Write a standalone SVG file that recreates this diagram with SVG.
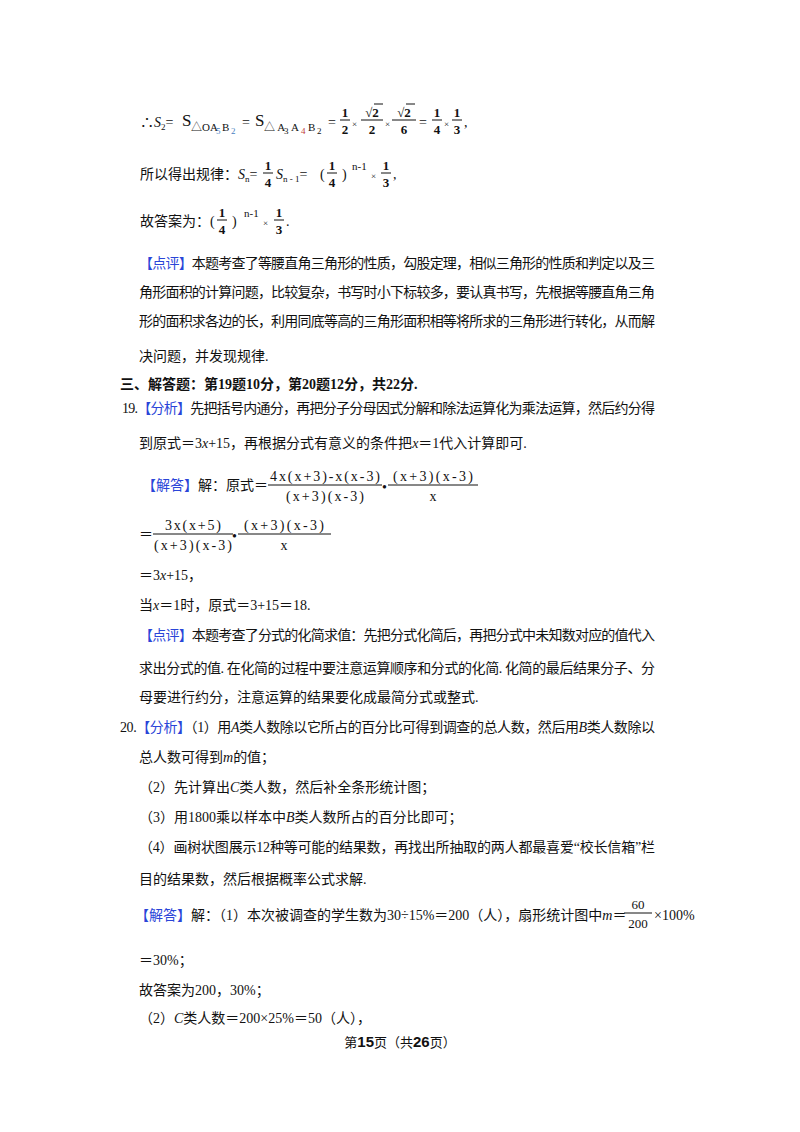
<svg xmlns="http://www.w3.org/2000/svg" width="800" height="1132" viewBox="0 0 800 1132">
<style>
text{font-family:"Liberation Serif","Noto Sans CJK SC",serif;font-size:14px;fill:#111}
.b{fill:#2a45d8}
.i{font-style:italic}
.s{font-size:9px}
.m{font-size:13px}
.f{font-size:14px}
.c{text-anchor:middle}
.bd{font-weight:bold}
line{stroke:#111;stroke-width:1}
</style>
<rect width="800" height="1132" fill="#fff"/>
<g id="line1">
<text x="140" y="127">∴<tspan class="i">S</tspan><tspan class="s" dy="3">2</tspan><tspan dy="-3">=</tspan></text>
<text x="182" y="126" style="font-size:17px">S</text>
<text x="191" y="131" style="font-size:11px">△OA</text><text x="216" y="134" class="s" style="fill:#4a7fc1">5</text><text x="222" y="131" style="font-size:11px">B</text><text x="231" y="134" class="s" style="fill:#4a7fc1">2</text>
<text x="242" y="127">=</text>
<text x="255" y="126" style="font-size:17px">S</text>
<text x="264" y="131" style="font-size:11px">△ A</text><text x="284" y="134" class="s">3</text><text x="291" y="131" style="font-size:11px">A</text><text x="301" y="134" class="s" style="fill:#c04040">4</text><text x="308" y="131" style="font-size:11px">B</text><text x="317" y="134" class="s">2</text>
<text x="328" y="127">=</text>
<text x="345" y="117" class="c bd m">1</text><line x1="340" y1="120" x2="350" y2="120"/><text x="345" y="134" class="c bd m">2</text>
<text x="352" y="127" class="s">×</text>
<text x="372" y="117" class="c bd m">√2</text><line x1="374" y1="104" x2="383" y2="104"/><line x1="361" y1="120" x2="383" y2="120"/><text x="372" y="134" class="c bd m">2</text>
<text x="385" y="127" class="s">×</text>
<text x="404" y="117" class="c bd m">√2</text><line x1="406" y1="104" x2="415" y2="104"/><line x1="392" y1="120" x2="416" y2="120"/><text x="404" y="134" class="c bd m">6</text>
<text x="419" y="127">=</text>
<text x="437" y="117" class="c bd m">1</text><line x1="432" y1="120" x2="442" y2="120"/><text x="437" y="134" class="c bd m">4</text>
<text x="444" y="127" class="s">×</text>
<text x="457" y="117" class="c bd m">1</text><line x1="452" y1="120" x2="462" y2="120"/><text x="457" y="134" class="c bd m">3</text>
<text x="464" y="127">,</text>
</g>
<g id="line2">
<text x="140" y="179">所以得出规律：<tspan class="i">S</tspan><tspan class="s" dy="3">n</tspan><tspan dy="-3">=</tspan></text>
<text x="268" y="170" class="c bd m">1</text><line x1="263" y1="173" x2="273" y2="173"/><text x="268" y="187" class="c bd m">4</text>
<text x="276" y="179"><tspan class="i">S</tspan><tspan class="s" dy="3">n - 1</tspan><tspan dy="-3">=</tspan></text>
<text x="320" y="179">(</text>
<text x="332" y="170" class="c bd m">1</text><line x1="327" y1="173" x2="337" y2="173"/><text x="332" y="187" class="c bd m">4</text>
<text x="342" y="179">)</text>
<text x="352" y="170" style="font-size:11px">n-1</text>
<text x="371" y="179" class="s">×</text>
<text x="386" y="170" class="c bd m">1</text><line x1="381" y1="173" x2="391" y2="173"/><text x="386" y="187" class="c bd m">3</text>
<text x="393" y="179">,</text>
</g>
<g id="line3">
<text x="140" y="226">故答案为：(</text>
<text x="222" y="217" class="c bd m">1</text><line x1="217" y1="220" x2="227" y2="220"/><text x="222" y="234" class="c bd m">4</text>
<text x="232" y="226">)</text>
<text x="244" y="217" style="font-size:11px">n-1</text>
<text x="263" y="226" class="s">×</text>
<text x="279" y="217" class="c bd m">1</text><line x1="274" y1="220" x2="284" y2="220"/><text x="279" y="234" class="c bd m">3</text>
<text x="286" y="226">.</text>
</g>
<g id="review1">
<text x="139" y="268" textLength="516" lengthAdjust="spacing"><tspan class="b">【点评】</tspan>本题考查了等腰直角三角形的性质，勾股定理，相似三角形的性质和判定以及三</text>
<text x="139" y="297" textLength="516" lengthAdjust="spacing">角形面积的计算问题，比较复杂，书写时小下标较多，要认真书写，先根据等腰直角三角</text>
<text x="139" y="326" textLength="516" lengthAdjust="spacing">形的面积求各边的长，利用同底等高的三角形面积相等将所求的三角形进行转化，从而解</text>
<text x="139" y="361">决问题，并发现规律.</text>
</g>
<g id="section3">
<text x="120" y="389" class="bd">三、解答题：第19题10分，第20题12分，共22分.</text>
</g>
<g id="q19">
<text x="122" y="413" textLength="533" lengthAdjust="spacing">19.<tspan class="b">【分析】</tspan>先把括号内通分，再把分子分母因式分解和除法运算化为乘法运算，然后约分得</text>
<text x="139" y="448">到原式＝3<tspan class="i">x</tspan>+15，再根据分式有意义的条件把<tspan class="i">x</tspan>＝1代入计算即可.</text>
<text x="142" y="490"><tspan class="b">【解答】</tspan>解：原式＝</text>
<text x="325" y="481" class="c f" textLength="110" lengthAdjust="spacing">4x(x+3)-x(x-3)</text><line x1="268" y1="485" x2="382" y2="485"/><text x="325" y="501" class="c f" textLength="78" lengthAdjust="spacing">(x+3)(x-3)</text>
<text x="382" y="492">•</text>
<text x="433" y="481" class="c f" textLength="80" lengthAdjust="spacing">(x+3)(x-3)</text><line x1="388" y1="485" x2="478" y2="485"/><text x="433" y="501" class="c f">x</text>
<text x="139" y="539">＝</text>
<text x="193" y="530" class="c f" textLength="56" lengthAdjust="spacing">3x(x+5)</text><line x1="153" y1="534" x2="233" y2="534"/><text x="193" y="550" class="c f" textLength="78" lengthAdjust="spacing">(x+3)(x-3)</text>
<text x="232" y="541">•</text>
<text x="284" y="530" class="c f" textLength="80" lengthAdjust="spacing">(x+3)(x-3)</text><line x1="238" y1="534" x2="331" y2="534"/><text x="284" y="550" class="c f">x</text>
<text x="139" y="580">＝3<tspan class="i">x</tspan>+15，</text>
<text x="139" y="610">当<tspan class="i">x</tspan>＝1时，原式＝3+15＝18.</text>
<text x="139" y="640" textLength="516" lengthAdjust="spacing"><tspan class="b">【点评】</tspan>本题考查了分式的化简求值：先把分式化简后，再把分式中未知数对应的值代入</text>
<text x="139" y="673" textLength="516" lengthAdjust="spacing">求出分式的值. 在化简的过程中要注意运算顺序和分式的化简. 化简的最后结果分子、分</text>
<text x="139" y="702">母要进行约分，注意运算的结果要化成最简分式或整式.</text>
</g>
<g id="q20">
<text x="120" y="732" textLength="535" lengthAdjust="spacing">20.<tspan class="b">【分析】</tspan>（1）用<tspan class="i">A</tspan>类人数除以它所占的百分比可得到调查的总人数，然后用<tspan class="i">B</tspan>类人数除以</text>
<text x="139" y="762">总人数可得到<tspan class="i">m</tspan>的值；</text>
<text x="139" y="792">（2）先计算出<tspan class="i">C</tspan>类人数，然后补全条形统计图；</text>
<text x="139" y="822">（3）用1800乘以样本中<tspan class="i">B</tspan>类人数所占的百分比即可；</text>
<text x="139" y="852" textLength="516" lengthAdjust="spacing">（4）画树状图展示12种等可能的结果数，再找出所抽取的两人都最喜爱“校长信箱”栏</text>
<text x="139" y="884">目的结果数，然后根据概率公式求解.</text>
<text x="135" y="920"><tspan class="b">【解答】</tspan>解：（1）本次被调查的学生数为30÷15%＝200（人），扇形统计图中<tspan class="i">m</tspan>＝</text>
<text x="638" y="909" class="c m">60</text><line x1="624" y1="913" x2="652" y2="913"/><text x="638" y="928" class="c m">200</text>
<text x="654" y="920">×100%</text>
<text x="139" y="965">＝30%；</text>
<text x="139" y="995">故答案为200，30%；</text>
<text x="139" y="1023">（2）<tspan class="i">C</tspan>类人数＝200×25%＝50（人），</text>
</g>
<g id="footer">
<text x="400" y="1047" class="c" style="font-size:13px">第<tspan class="bd" style="font-family:'Liberation Sans',sans-serif;font-size:15px">15</tspan>页（共<tspan class="bd" style="font-family:'Liberation Sans',sans-serif;font-size:15px">26</tspan>页）</text>
</g>
</svg>
